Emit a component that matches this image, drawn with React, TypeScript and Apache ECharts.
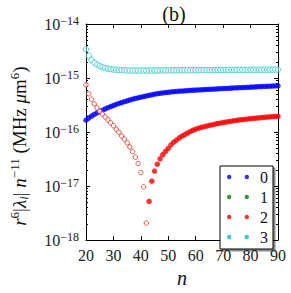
import React, { useEffect, useRef } from "react";
import * as echarts from "echarts";

// n = 20 .. 90
const nAll: number[] = [];
for (let n = 20; n <= 90; n++) nAll.push(n);

// series 0 (blue)
const s0Values: number[] = [
  1.66e-16, 1.82e-16, 1.97e-16, 2.12e-16, 2.26e-16, 2.40e-16, 2.54e-16, 2.68e-16, 2.82e-16, 2.96e-16,
  3.10e-16, 3.24e-16, 3.38e-16, 3.52e-16, 3.65e-16, 3.78e-16, 3.92e-16, 4.05e-16, 4.18e-16, 4.30e-16,
  4.42e-16, 4.54e-16, 4.66e-16, 4.78e-16, 4.90e-16, 5.01e-16, 5.12e-16, 5.22e-16, 5.30e-16, 5.38e-16,
  5.45e-16, 5.52e-16, 5.58e-16, 5.64e-16, 5.70e-16, 5.75e-16, 5.80e-16, 5.85e-16, 5.90e-16, 5.94e-16,
  5.98e-16, 6.02e-16, 6.06e-16, 6.10e-16, 6.14e-16, 6.18e-16, 6.22e-16, 6.26e-16, 6.30e-16, 6.34e-16,
  6.38e-16, 6.42e-16, 6.46e-16, 6.50e-16, 6.54e-16, 6.58e-16, 6.62e-16, 6.66e-16, 6.70e-16, 6.74e-16,
  6.78e-16, 6.82e-16, 6.86e-16, 6.90e-16, 6.94e-16, 6.98e-16, 7.02e-16, 7.06e-16, 7.10e-16, 7.14e-16,
  7.18e-16,
];

// series 1 (green): nothing visible on the log axis
const s1Values: number[] = [];

// series 2 (red): |value| where negative (open circles), n = 20 .. 42
const s2NegN: number[] = [20, 21, 22, 23, 24, 25, 26, 27, 28, 29, 30, 31, 32, 33, 34, 35, 36, 37, 38, 39, 40, 41, 42];
const s2NegValues: number[] = [
  7.5e-16, 5.12e-16, 4.04e-16, 3.31e-16, 2.81e-16, 2.43e-16, 2.15e-16, 1.90e-16, 1.68e-16, 1.48e-16,
  1.31e-16, 1.13e-16, 9.9e-17, 8.5e-17, 7.4e-17, 6.3e-17, 5.3e-17, 4.35e-17, 3.44e-17, 2.61e-17,
  1.78e-17, 9.7e-18, 2.07e-18,
];
// series 2 (red): positive values (filled), n = 43 .. 90
const s2PosN: number[] = nAll.filter((n) => n >= 43);
const s2PosValues: number[] = [
  5.2e-18, 1.23e-17, 1.9e-17, 2.54e-17, 3.2e-17, 3.8e-17, 4.4e-17, 5.0e-17, 5.8e-17, 6.5e-17,
  7.1e-17, 7.8e-17, 8.4e-17, 9.0e-17, 9.6e-17, 1.02e-16, 1.08e-16, 1.13e-16, 1.18e-16, 1.22e-16,
  1.25e-16, 1.29e-16, 1.33e-16, 1.36e-16, 1.40e-16, 1.44e-16, 1.47e-16, 1.50e-16, 1.53e-16, 1.56e-16,
  1.59e-16, 1.62e-16, 1.65e-16, 1.68e-16, 1.70e-16, 1.72e-16, 1.75e-16, 1.77e-16, 1.79e-16, 1.81e-16,
  1.83e-16, 1.85e-16, 1.87e-16, 1.89e-16, 1.91e-16, 1.93e-16, 1.94e-16, 1.96e-16,
];

// series 3 (cyan)
const s3Values: number[] = [
  3.42e-15, 2.59e-15, 2.17e-15, 1.92e-15, 1.77e-15, 1.67e-15, 1.59e-15, 1.53e-15, 1.49e-15, 1.46e-15,
  1.44e-15, 1.42e-15, 1.41e-15, 1.40e-15, 1.39e-15, 1.385e-15, 1.38e-15, 1.38e-15, 1.375e-15, 1.375e-15,
  1.375e-15, 1.375e-15, 1.375e-15, 1.378e-15, 1.38e-15, 1.38e-15, 1.382e-15, 1.384e-15, 1.386e-15, 1.388e-15,
  1.39e-15, 1.391e-15, 1.392e-15, 1.393e-15, 1.394e-15, 1.395e-15, 1.396e-15, 1.397e-15, 1.398e-15, 1.399e-15,
  1.40e-15, 1.401e-15, 1.402e-15, 1.403e-15, 1.404e-15, 1.405e-15, 1.406e-15, 1.407e-15, 1.408e-15, 1.409e-15,
  1.41e-15, 1.411e-15, 1.412e-15, 1.413e-15, 1.414e-15, 1.415e-15, 1.416e-15, 1.417e-15, 1.418e-15, 1.419e-15,
  1.42e-15, 1.421e-15, 1.422e-15, 1.423e-15, 1.424e-15, 1.425e-15, 1.426e-15, 1.427e-15, 1.428e-15, 1.429e-15,
  1.43e-15,
];

const seriesNames: string[] = ["0", "1", "2", "3"];
const seriesColors: string[] = ["#0000ff", "#008000", "#ff0000", "#00bfbf"];

const xTicks: number[] = [20, 30, 40, 50, 60, 70, 80, 90];
const yMin = 1e-18;
const yMax = 1e-14;

const minorTicks: number[] = [];
for (let d = -18; d < -14; d++) {
  for (let k = 2; k <= 9; k++) minorTicks.push(k * Math.pow(10, d));
}

const FONT = "'Liberation Serif', 'DejaVu Serif', serif";
const TWO_DOTS =
  "path://M0,2.2a2.2,2.2 0 1,0 4.4,0a2.2,2.2 0 1,0 -4.4,0M17.6,2.2a2.2,2.2 0 1,0 4.4,0a2.2,2.2 0 1,0 -4.4,0";

export default function App() {
  const ref = useRef<HTMLDivElement>(null);
  useEffect(() => {
    if (!ref.current) return;
    const chart = echarts.init(ref.current, undefined, { renderer: "svg" });
    const pair = (xs: number[], ys: number[]) => ys.map((v, i) => [xs[i], v]);

    const yCommon = {
      type: "log" as const,
      logBase: 10,
      min: yMin,
      max: yMax,
      splitLine: { show: false },
      minorTick: { show: false },
    };

    const option: any = {
      animation: false,
      backgroundColor: "#fff",
      grid: { left: 70, right: 13, top: 24, bottom: 46, containLabel: false },
      graphic: [
        {
          type: "text",
          x: 174,
          y: 14,
          style: {
            text: "(b)",
            font: `20px ${FONT}`,
            fill: "#111",
            textAlign: "center",
            textVerticalAlign: "middle",
          },
        },
      ],
      legend: {
        orient: "vertical",
        left: 220,
        top: 166,
        padding: [3, 5, 4, 7],
        itemGap: 4,
        itemWidth: 22,
        itemHeight: 4.4,
        icon: TWO_DOTS,
        backgroundColor: "#fff",
        borderColor: "#000",
        borderWidth: 1,
        borderRadius: 0,
        shadowColor: "rgba(0,0,0,0.45)",
        shadowOffsetX: 2,
        shadowOffsetY: 2,
        shadowBlur: 0,
        textStyle: { fontFamily: FONT, fontSize: 16, color: "#111", lineHeight: 14, padding: [0, 0, 0, 6] },
        data: seriesNames.map((nm, i) => ({ name: nm, itemStyle: { color: seriesColors[i], borderWidth: 0 } })),
      },
      xAxis: [
        {
          type: "value",
          position: "bottom",
          min: xTicks[0],
          max: xTicks[xTicks.length - 1],
          interval: 10,
          axisLine: { lineStyle: { color: "#000", width: 1 } },
          axisTick: { inside: true, length: 4, lineStyle: { color: "#000" } },
          axisLabel: { fontFamily: FONT, fontSize: 16, color: "#222", margin: 7 },
          splitLine: { show: false },
          name: "n",
          nameLocation: "middle",
          nameGap: 27,
          nameTextStyle: { fontFamily: FONT, fontSize: 20, fontStyle: "italic", color: "#111" },
        },
        {
          type: "value",
          position: "top",
          min: xTicks[0],
          max: xTicks[xTicks.length - 1],
          interval: 10,
          axisLine: { lineStyle: { color: "#000", width: 1 } },
          axisTick: { inside: true, length: 4, lineStyle: { color: "#000" } },
          axisLabel: { show: false },
          splitLine: { show: false },
        },
      ],
      yAxis: [
        {
          ...yCommon,
          position: "left",
          axisLine: { show: true, lineStyle: { color: "#000", width: 1 } },
          axisTick: { inside: true, length: 4, lineStyle: { color: "#000" } },
          axisLabel: {
            margin: 7,
            formatter: (v: number) => `{b|10}{s|−${Math.round(-Math.log10(v))}}`,
            rich: {
              b: { fontFamily: FONT, fontSize: 16, color: "#222", lineHeight: 18, verticalAlign: "middle" },
              s: { fontFamily: FONT, fontSize: 12, color: "#222", lineHeight: 11, verticalAlign: "top" },
            },
          },
          name:
            "{it|r}{sup|6}{rm||}{it|λ}{sub|i}{rm|| }{it|n}{sup|−11}{rm| (MHz }{it|μ}{rm|m}{sup|6}{rm|)}",
          nameLocation: "middle",
          nameRotate: 90,
          nameGap: 56,
          nameMoveOverlap: false,
          nameTextStyle: {
            padding: [0, 28, 0, 0],
            rich: {
              it: { fontFamily: FONT, fontSize: 19, fontStyle: "italic", color: "#111", lineHeight: 22 },
              rm: { fontFamily: FONT, fontSize: 19, color: "#111", lineHeight: 22 },
              sup: { fontFamily: FONT, fontSize: 13, color: "#111", lineHeight: 12, verticalAlign: "top" },
              sub: { fontFamily: FONT, fontSize: 13, fontStyle: "italic", color: "#111", lineHeight: 12, verticalAlign: "bottom" },
            },
          },
        },
        {
          ...yCommon,
          position: "left",
          axisLine: { show: false },
          axisTick: { inside: true, length: 2, customValues: minorTicks, lineStyle: { color: "#000" } },
          axisLabel: { show: false },
        },
        {
          ...yCommon,
          position: "right",
          axisLine: { show: true, lineStyle: { color: "#000", width: 1 } },
          axisTick: { inside: true, length: 4, lineStyle: { color: "#000" } },
          axisLabel: { show: false },
        },
        {
          ...yCommon,
          position: "right",
          axisLine: { show: false },
          axisTick: { inside: true, length: 2, customValues: minorTicks, lineStyle: { color: "#000" } },
          axisLabel: { show: false },
        },
      ],
      series: [
        {
          name: seriesNames[0],
          type: "scatter",
          symbol: "circle",
          symbolSize: 5.5,
          itemStyle: { color: seriesColors[0] },
          data: pair(nAll, s0Values),
        },
        {
          name: seriesNames[1],
          type: "scatter",
          symbol: "circle",
          symbolSize: 5,
          itemStyle: { color: seriesColors[1] },
          data: pair(nAll, s1Values),
        },
        {
          name: "2neg",
          type: "scatter",
          symbol: "circle",
          symbolSize: 4.5,
          itemStyle: { color: "#fff", borderColor: "#e03020", borderWidth: 1 },
          data: pair(s2NegN, s2NegValues),
        },
        {
          name: seriesNames[2],
          type: "scatter",
          symbol: "circle",
          symbolSize: 5.5,
          itemStyle: { color: seriesColors[2] },
          data: pair(s2PosN, s2PosValues),
        },
        {
          name: seriesNames[3],
          type: "scatter",
          symbol: "circle",
          symbolSize: 5.5,
          itemStyle: { color: "rgba(255,255,255,0.6)", borderColor: "#30c8c8", borderWidth: 1 },
          data: pair(nAll, s3Values),
        },
      ],
    };
    chart.setOption(option);
    return () => chart.dispose();
  }, []);
  return <div ref={ref} style={{ width: 291, height: 293, position: "absolute", left: 0, top: 0 }} />;
}
